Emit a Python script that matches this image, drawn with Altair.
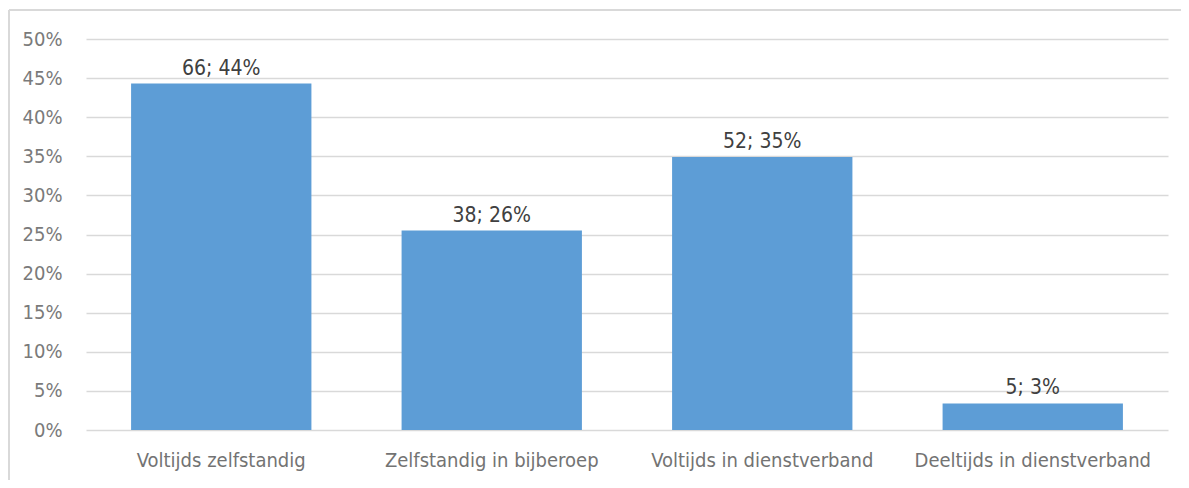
import altair as alt
import pandas as pd

categories = ["Voltijds zelfstandig", "Zelfstandig in bijberoep", "Voltijds in dienstverband", "Deeltijds in dienstverband"]
counts = [66, 38, 52, 5]
shares = [0.443, 0.255, 0.349, 0.034]
label_pcts = [44, 26, 35, 3]
tick_values = [0.0, 0.05, 0.10, 0.15, 0.20, 0.25, 0.30, 0.35, 0.40, 0.45, 0.50]

df = pd.DataFrame({
    "cat": categories,
    "share": shares,
    "label": [f"{c}; {p}%" for c, p in zip(counts, label_pcts)],
})

FONT = "DejaVu Sans Condensed, Liberation Sans Narrow, sans-serif"
W, H = 1082, 391

x = alt.X("cat:N", sort=categories, title=None,
          scale=alt.Scale(paddingInner=1/3, paddingOuter=1/6),
          axis=alt.Axis(labelAngle=0, labelFont=FONT, labelFontSize=20, labelColor="#737373",
                        labelLimit=0, labelOverlap=False,
                        ticks=False, domain=False, labelPadding=20))
y = alt.Y("share:Q", title=None,
          scale=alt.Scale(domain=[0, 0.5], nice=False),
          axis=alt.Axis(format=".0%", values=tick_values, labelFont=FONT, labelOverlap=False,
                        labelFontSize=20, labelColor="#7a7a7a", ticks=False, domain=False,
                        labelPadding=24, gridColor="#d9d9d9", gridWidth=1.5))

base = alt.Chart(df).encode(x=x, y=y)
bars = base.mark_bar(color="#5d9dd6")
text = base.mark_text(baseline="bottom", dy=-5, font=FONT, fontSize=21, color="#404040").encode(
    text="label:N")

border_top = alt.Chart(df).mark_rule(color="#d9d9d9", strokeWidth=1.5, clip=False).encode(
    x=alt.value(-77), x2=alt.value(W + 13), y=alt.value(-29))
border_left = alt.Chart(df).mark_rule(color="#d9d9d9", strokeWidth=1.5, clip=False).encode(
    x=alt.value(-77), y=alt.value(-29), y2=alt.value(H + 50))

chart = alt.layer(bars, text, border_top, border_left).properties(
    width=W, height=H,
    autosize=alt.AutoSizeParams(type="none"),
    padding={"left": 78, "top": 31, "right": 13, "bottom": 50},
    background="white",
).configure_view(stroke=None)

chart.save("out.html", embed_options={"renderer": "svg", "actions": False})
